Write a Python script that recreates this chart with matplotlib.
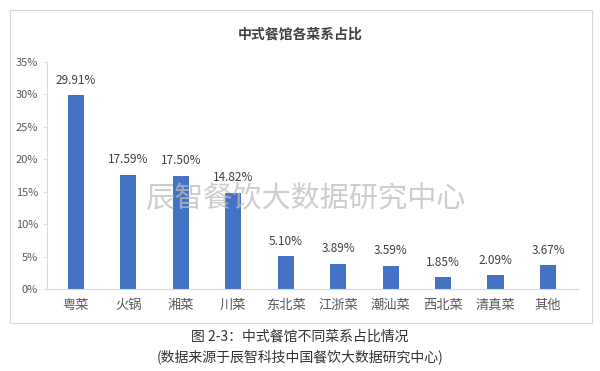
import matplotlib.pyplot as plt
from matplotlib.patches import Rectangle
from matplotlib.ticker import FuncFormatter

plt.rcParams['font.family'] = ['Noto Sans CJK SC', 'DejaVu Sans']

# data
categories = ['粤菜', '火锅', '湘菜', '川菜', '东北菜', '江浙菜', '潮汕菜', '西北菜', '清真菜', '其他']
shares = [29.91, 17.59, 17.50, 14.82, 5.10, 3.89, 3.59, 1.85, 2.09, 3.67]
yticks = [0, 5, 10, 15, 20, 25, 30, 35]

fig = plt.figure(figsize=(6, 3.71), dpi=100)
fig.patch.set_facecolor('white')

# chart frame
fig.patches.append(Rectangle((10 / 600, 1 - 323 / 371), 582 / 600, 313 / 371,
                             transform=fig.transFigure, fill=False,
                             edgecolor='#d9d9d9', linewidth=0.8))

ax = fig.add_axes([47 / 600, 1 - 289 / 371, 531 / 600, 227 / 371])
x = list(range(len(categories)))

ax.bar(x, shares, width=0.31, color='#4472C4', zorder=2)

for xi, v in zip(x, shares):
    ax.text(xi, v + 2.3, f'{v:.2f}%', ha='center', va='center',
            fontsize=8.5, color='#404040', zorder=3)

# watermark, semi-transparent over the bars
ax.text(0.486, 0.395, '辰智餐饮大数据研究中心', transform=ax.transAxes,
        ha='center', va='center', fontsize=21, color='#bdbdbd', alpha=0.75, zorder=4)

ax.set_xlim(-0.55, 9.57)
ax.set_ylim(0, 35)
ax.set_yticks(yticks)
ax.yaxis.set_major_formatter(FuncFormatter(lambda v, p: f'{v:.0f}%'))
ax.set_xticks(x)
ax.set_xticklabels(categories)
ax.tick_params(axis='x', length=0, labelsize=9.5, colors='#595959', pad=7)
ax.tick_params(axis='y', length=3, labelsize=8, labelcolor='#595959',
               color='#d9d9d9', width=0.6)
for s in ['top', 'right']:
    ax.spines[s].set_visible(False)
ax.spines['left'].set_color('#d9d9d9')
ax.spines['bottom'].set_color('#d9d9d9')

fig.text(0.5, 1 - 35 / 371, '中式餐馆各菜系占比', ha='center', va='center',
         fontsize=10, fontweight='bold', color='#404040')

fig.text(0.5, 1 - 337 / 371, '图 2-3：中式餐馆不同菜系占比情况', ha='center', va='center',
         fontsize=10, color='#333333')
fig.text(0.5, 1 - 357 / 371, '(数据来源于辰智科技中国餐饮大数据研究中心)', ha='center', va='center',
         fontsize=10, color='#333333')

fig.savefig('out.png', dpi=100)
